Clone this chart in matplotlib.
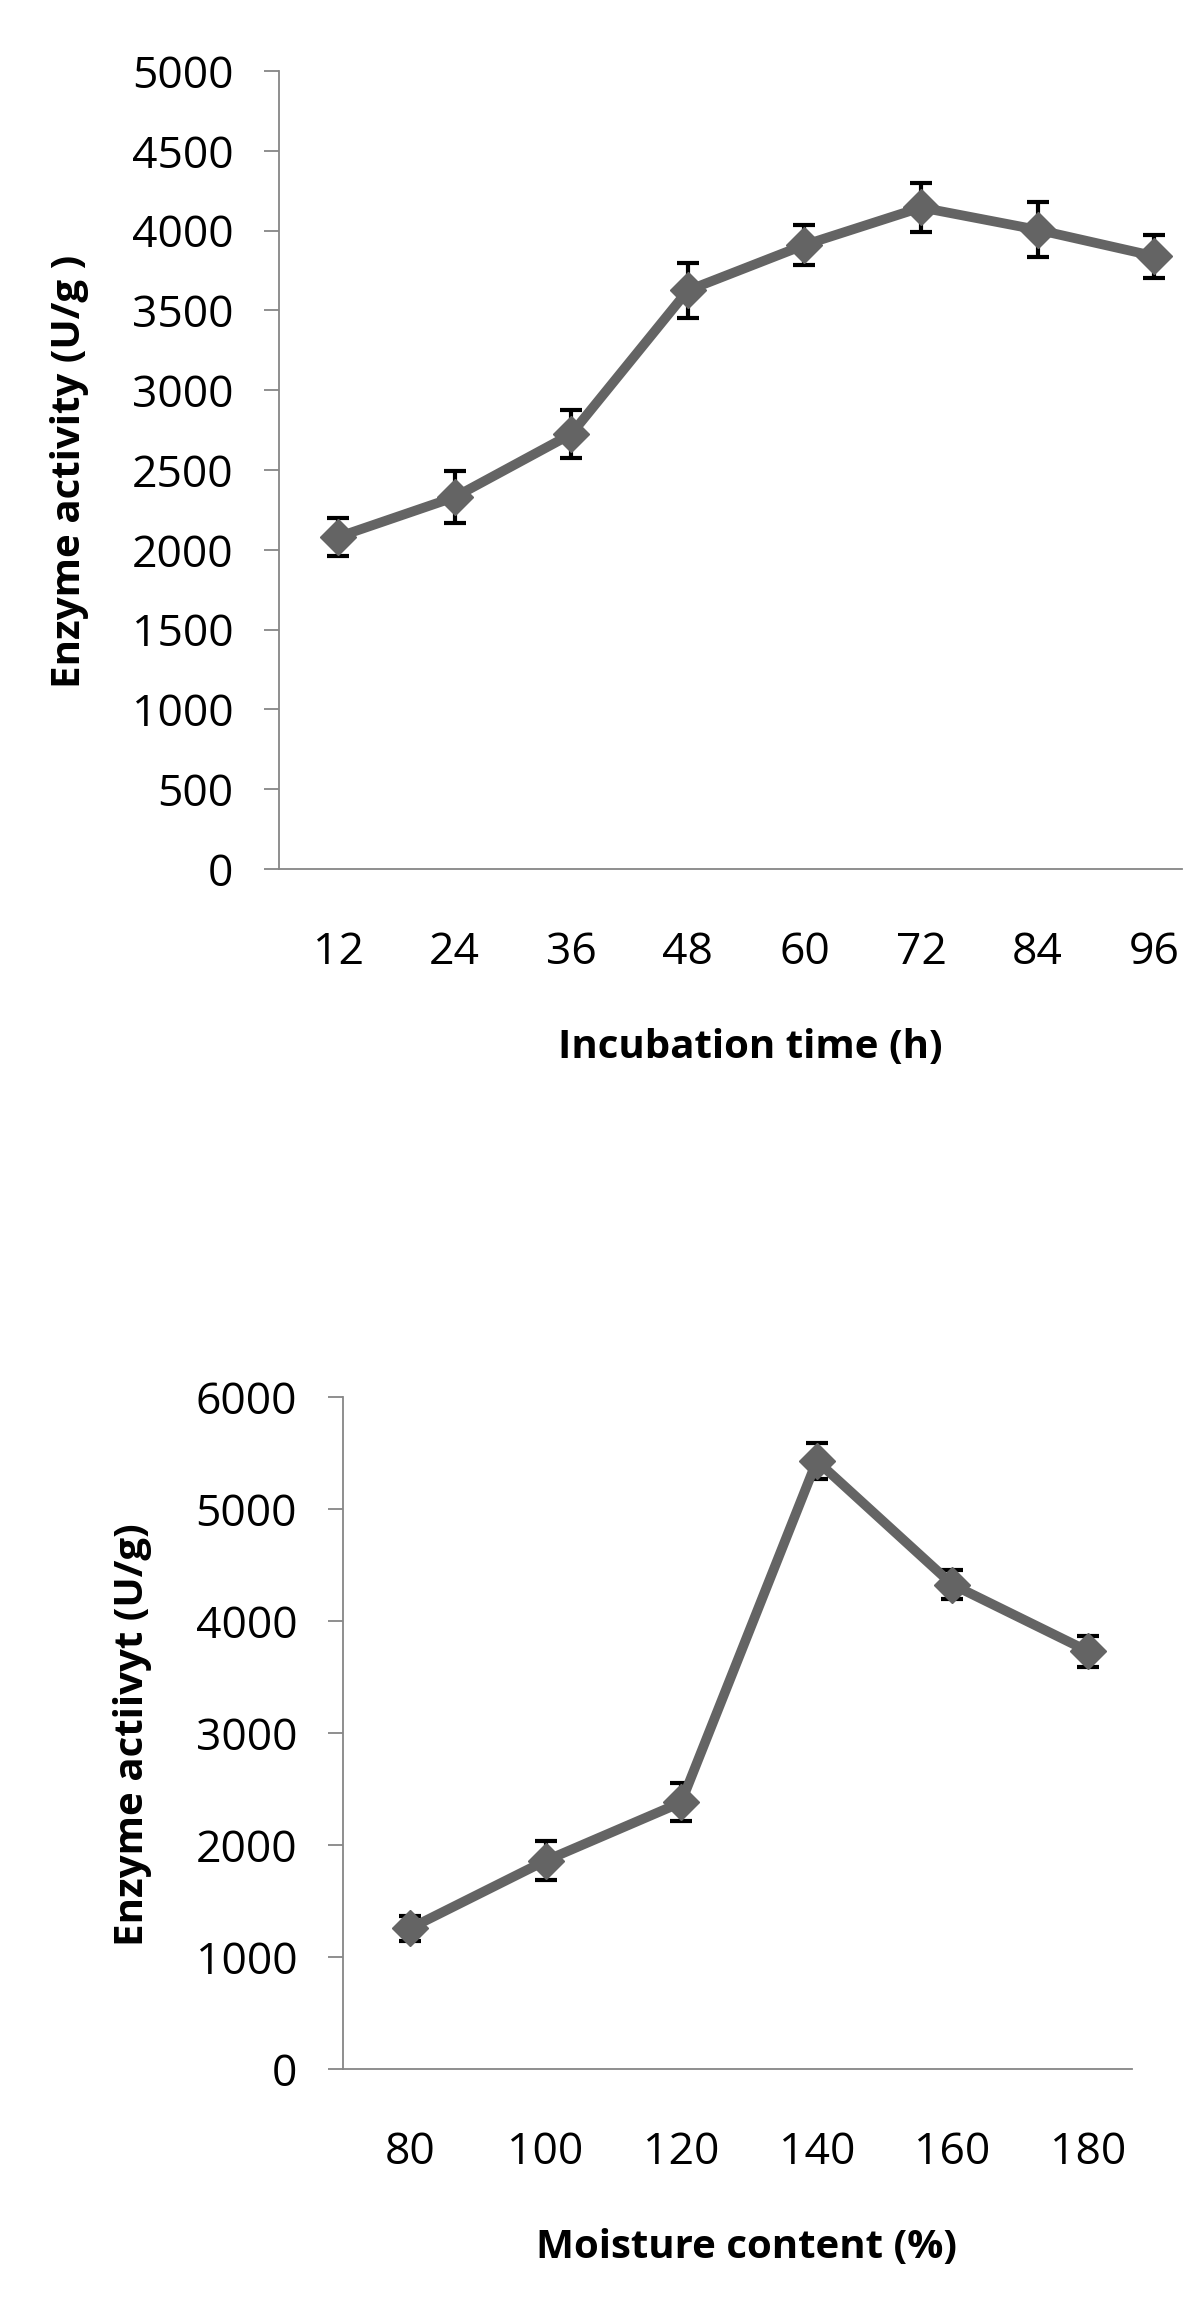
import matplotlib
matplotlib.use("Agg")
import matplotlib.pyplot as plt

plt.rcParams['font.family'] = ['Open Sans', 'DejaVu Sans']

# ---- data: panel 1 (incubation time) ----
time_labels = ["12", "24", "36", "48", "60", "72", "84", "96"]
time_activity = [2080, 2330, 2725, 3625, 3910, 4145, 4005, 3840]
time_err = [120, 163, 150, 170, 128, 155, 172, 135]

# ---- data: panel 2 (moisture content) ----
moist_labels = ["80", "100", "120", "140", "160", "180"]
moist_activity = [1255, 1860, 2380, 5430, 4325, 3730]
moist_err = [115, 174, 170, 158, 131, 138]

W, H = 1200, 2308
fig = plt.figure(figsize=(W / 100, H / 100), dpi=100)
fig.patch.set_facecolor("white")

LINE_C = "#646464"
AXIS_C = "#868686"


def px_axes(left, right, top, bottom):
    return [left / W, 1 - bottom / H, (right - left) / W, (bottom - top) / H]


def draw_panel(ax, labels, vals, errs, ymax, ystep, xlim):
    xs = list(range(len(labels)))
    ax.errorbar(xs, vals, yerr=errs, fmt='none', ecolor='black',
                elinewidth=3, capsize=8, capthick=3, zorder=2, clip_on=False)
    ax.plot(xs, vals, color=LINE_C, lw=7, marker='D', ms=18,
            mfc=LINE_C, mec=LINE_C, mew=1, zorder=3, clip_on=False,
            solid_joinstyle='round')
    ax.set_xlim(*xlim)
    ax.set_ylim(0, ymax)
    ax.set_yticks(range(0, ymax + 1, ystep))
    ax.set_xticks(xs)
    ax.set_xticklabels(labels)
    for s in ("top", "right"):
        ax.spines[s].set_visible(False)
    for s in ("left", "bottom"):
        ax.spines[s].set_color(AXIS_C)
        ax.spines[s].set_linewidth(1.3)
    ax.tick_params(axis='y', direction='out', length=10.8, width=1.3,
                   color=AXIS_C, pad=22, labelsize=32, labelcolor='black')
    ax.tick_params(axis='x', length=0, pad=44, labelsize=32,
                   labelcolor='black')


# top panel
ax1 = fig.add_axes(px_axes(279, 1182, 71, 869))
draw_panel(ax1, time_labels, time_activity, time_err, 5000, 500,
           (-0.506, 7.238))
fig.text(750 / W, 1 - 1047 / H, "Incubation time (h)", ha='center',
         va='center', fontsize=29, fontweight='bold')
fig.text(70 / W, 1 - 471 / H, "Enzyme activity (U/g )", ha='center',
         va='center', rotation=90, fontsize=29, fontweight='bold')

# bottom panel
ax2 = fig.add_axes(px_axes(342.7, 1132, 1397, 2069))
draw_panel(ax2, moist_labels, moist_activity, moist_err, 6000, 1000,
           (-0.496, 5.324))
fig.text(746 / W, 1 - 2247 / H, "Moisture content (%)", ha='center',
         va='center', fontsize=29, fontweight='bold')
fig.text(132 / W, 1 - 1735 / H, "Enzyme actiivyt (U/g)", ha='center',
         va='center', rotation=90, fontsize=29, fontweight='bold')

fig.savefig("out.png", dpi=100, facecolor="white")
